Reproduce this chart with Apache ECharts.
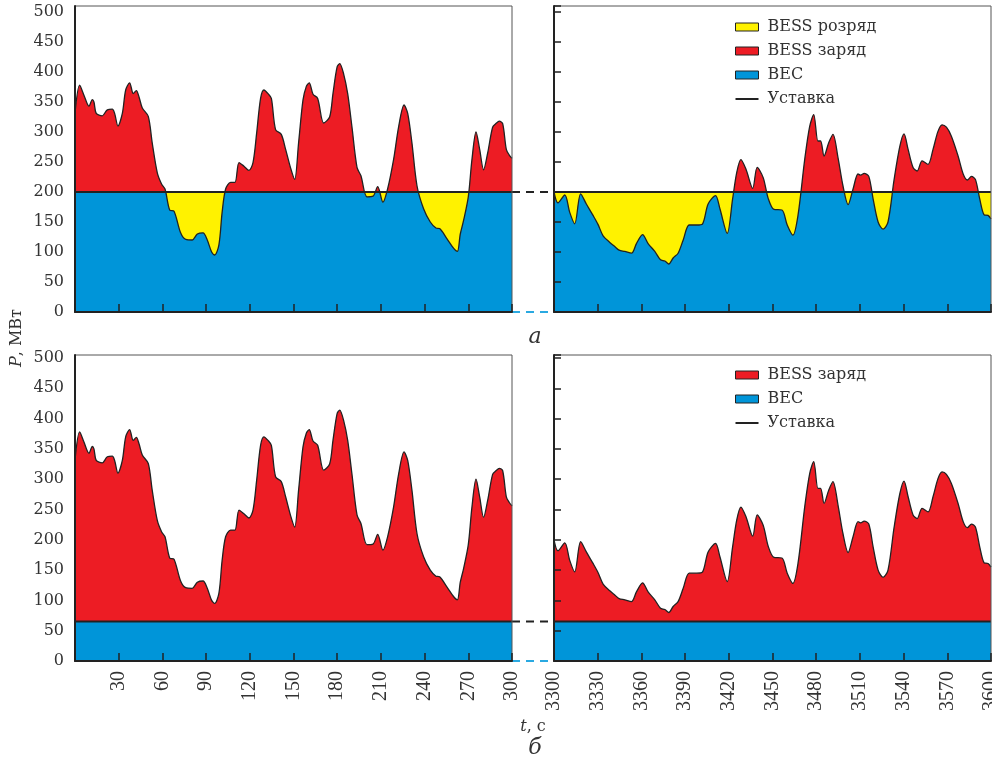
<!DOCTYPE html>
<html>
<head>
<meta charset="utf-8">
<script src="https://cdn.jsdelivr.net/npm/echarts@6/dist/echarts.min.js"></script>
<style>html,body{margin:0;padding:0;background:#fff}#c{width:992px;height:761px}</style>
</head>
<body>
<div id="c"></div>
<script>
// ---- data ----
const leftT = [0,3.2,6.2,9.6,11.9,13,14.6,18.7,22.2,25.6,27.2,29.5,32.5,34.8,37.5,40,42.1,44,46.2,50.3,53,56.5,59.5,61.8,65,68,72.5,76,80.5,84,87.9,90.8,93.8,95.9,98.8,101,103.4,106.8,109.8,112.6,116,119.4,122.2,124.7,127.4,129.7,132.5,134.8,137.7,141.6,144.6,148,150.8,153.5,156.5,158.8,160.8,163.4,166.6,170.7,174.8,177.1,179.9,181.7,184.4,187.2,190.1,193.6,196.3,200.4,204.6,207.8,211.4,214.6,218.7,222.2,225.9,228.4,231.3,234.8,239.3,243.9,247.8,250.3,255.4,260,262.5,264.5,266.8,270,272.5,275.3,277.8,280.5,283.3,286.7,289,291.3,293.6,296.1,298,300];
const leftP = [331,378,361,343,354,350,331,327,337,338,331,310,331,370,382,364,369,358,340,326,282,232,213,205,170,168,132,121,120,130,132,120,100,95,112,166,205,216,216,249,243,236,249,298,356,370,364,356,304,296,271,240,221,282,353,376,382,363,356,315,325,364,408,414,397,364,309,241,227,192,193,209,183,205,254,309,345,331,282,210,172,150,140,139,122,106,101,130,153,192,254,300,271,237,265,308,314,318,314,271,262,256];
const rightT = [3300,3302.7,3307.4,3310.8,3314.2,3318.3,3322.2,3326.8,3330.2,3333.7,3338.3,3341.7,3344.7,3348.6,3353.2,3356.6,3360.8,3364.6,3369.2,3373.1,3376.1,3378.8,3381.8,3385.2,3388.7,3392.8,3397.9,3402,3405.8,3410.9,3413.9,3418.9,3422.6,3425.4,3428.3,3431.8,3436.4,3439.5,3443.6,3447.1,3451,3456.5,3460.1,3464,3467.5,3472.1,3475.5,3478.3,3481.2,3483,3485.4,3488.6,3491.5,3495,3498.4,3501.9,3505.3,3508.7,3510.5,3512.9,3516.1,3519.1,3522.5,3525.9,3529.3,3533.5,3537.4,3540.3,3543.1,3546.5,3549.3,3552.7,3556.8,3560.2,3563.6,3566.4,3569.4,3572.8,3577.4,3580.9,3583.8,3586.6,3589.3,3592.3,3595.3,3598,3600];
const rightP = [200,182,195,166,147,197,180,161,146,127,116,109,103,101,98,114,129,114,101,87,85,80,90,98,120,145,145,147,180,194,172,131,188,232,254,238,206,241,224,189,171,170,145,128,161,254,309,329,285,285,260,282,296,257,210,179,205,230,228,231,226,188,150,138,150,221,276,297,271,241,235,252,246,271,301,312,308,293,260,230,220,226,221,188,162,161,155];
const setpointTop = 200;     // МВт, panel а
const setpointBottom = 65;   // МВт, panel б
const leftRange = [0, 300];
const rightRange = [3300, 3600];
const xInterval = 30;
const yInterval = 50;

// ---- styles ----
const BLUE = '#0095D9', RED = '#ED1C24', YEL = '#FFF200', DASHBLUE = '#2AA9E1', INK = '#222';
const SERIF = 'DejaVu Serif';
const SMOOTH = 0.3;
const pairs = (ts, ps) => ts.map((t, i) => [t, ps[i]]);
const leftPairs = pairs(leftT, leftP);
const rightPairs = pairs(rightT, rightP);
const flat = (range, v) => [[range[0], v], [range[1], v]];

const TOP = {top: 6, height: 306, max: 510};
const BOT = {top: 355, height: 306, max: 505};
const L = {left: 75, width: 437};
const R = {left: 554, width: 437};
const GAP = {left: 512, width: 42};

const grids = [], xAxes = [], yAxes = [], series = [];
function addGrid(g) { grids.push(Object.assign({containLabel: false, outerBoundsMode: 'none'}, g)); return grids.length - 1; }
function hiddenX(gi, range) { xAxes.push({type: 'value', gridIndex: gi, min: range[0], max: range[1], show: false}); }
function hiddenY(gi, min, max) { yAxes.push({type: 'value', gridIndex: gi, min: min, max: max, show: false}); }

function frameAxes(gi, range, row, isLeft, showXLabels) {
  xAxes.push({
    type: 'value', gridIndex: gi, min: range[0], max: range[1], interval: xInterval, z: 10,
    axisLine: {show: true, onZero: false, lineStyle: {color: INK, width: 2}},
    axisTick: {show: true, inside: true, length: 8, lineStyle: {color: INK, width: 1.5}},
    splitLine: {show: false},
    axisLabel: {show: showXLabels, rotate: 90, margin: 10, fontFamily: 'Liberation Serif', fontSize: 20, color: '#333',
      hideOverlap: false, showMinLabel: true, showMaxLabel: true,
      formatter: v => (v === 0 || v % xInterval !== 0) ? '' : String(v)}
  });
  yAxes.push({
    type: 'value', gridIndex: gi, min: 0, max: row.max, interval: yInterval, z: 10,
    axisLine: {show: true, lineStyle: {color: INK, width: 2}},
    axisTick: {show: !isLeft, inside: true, length: 7, lineStyle: {color: INK, width: 1.5}},
    splitLine: {show: false},
    axisLabel: {show: isLeft, margin: 11, fontFamily: SERIF, fontSize: 16, color: '#333',
      formatter: v => v % yInterval === 0 ? String(v) : ''}
  });
}

function topPanel(col, range, data) {
  const pxPerUnit = TOP.height / TOP.max;
  const gFull = addGrid({left: col.left, width: col.width, top: TOP.top, height: TOP.height, show: true, borderColor: '#555', borderWidth: 1, z: 10});
  frameAxes(gFull, range, TOP, col === L, false);
  const upH = (TOP.max - setpointTop) * pxPerUnit;
  const gUp = addGrid({left: col.left, width: col.width, top: TOP.top, height: upH});
  hiddenX(gUp, range); hiddenY(gUp, setpointTop, TOP.max);
  const gLo = addGrid({left: col.left, width: col.width, top: TOP.top + upH, height: TOP.height - upH});
  hiddenX(gLo, range); hiddenY(gLo, 0, setpointTop);
  const area = (name, gi, d, color) => ({
    name, type: 'line', xAxisIndex: gi, yAxisIndex: gi, data: d, smooth: SMOOTH, symbol: 'none',
    itemStyle: {color}, lineStyle: {width: 0}, areaStyle: {color, opacity: 1, origin: 'start'}, silent: true
  });
  series.push(area('BESS заряд', gUp, data, RED));
  series.push(area('BESS розряд', gLo, flat(range, setpointTop), YEL));
  series.push(area('ВЕС', gLo, data, BLUE));
  series.push({type: 'line', xAxisIndex: gFull, yAxisIndex: gFull, data, smooth: SMOOTH, symbol: 'none',
    lineStyle: {color: INK, width: 1.3}, itemStyle: {color: INK}, silent: true});
  series.push({name: 'Уставка', type: 'line', xAxisIndex: gFull, yAxisIndex: gFull, data: flat(range, setpointTop), symbol: 'none',
    lineStyle: {color: INK, width: 2}, itemStyle: {color: INK}, silent: true});
}

function bottomPanel(col, range, data) {
  const gi = addGrid({left: col.left, width: col.width, top: BOT.top, height: BOT.height, show: true, borderColor: '#555', borderWidth: 1, z: 10});
  frameAxes(gi, range, BOT, col === L, true);
  series.push({name: 'BESS заряд', type: 'line', xAxisIndex: gi, yAxisIndex: gi, data, smooth: SMOOTH, symbol: 'none',
    itemStyle: {color: RED}, lineStyle: {color: INK, width: 1.3}, areaStyle: {color: RED, opacity: 1, origin: 'start'}, silent: true});
  series.push({name: 'ВЕС', type: 'line', xAxisIndex: gi, yAxisIndex: gi, data: flat(range, setpointBottom), symbol: 'none',
    itemStyle: {color: BLUE}, lineStyle: {width: 0}, areaStyle: {color: BLUE, opacity: 1, origin: 'start'}, silent: true});
  series.push({name: 'Уставка', type: 'line', xAxisIndex: gi, yAxisIndex: gi, data: flat(range, setpointBottom), symbol: 'none',
    lineStyle: {color: INK, width: 2}, itemStyle: {color: INK}, silent: true});
}

function gapPanel(row, level) {
  const gi = addGrid({left: GAP.left, width: GAP.width, top: row.top, height: row.height});
  hiddenX(gi, [0, 1]); hiddenY(gi, 0, row.max);
  series.push({type: 'line', xAxisIndex: gi, yAxisIndex: gi, data: flat([0, 1], level), symbol: 'none', clip: false,
    lineStyle: {color: INK, width: 2, type: [8, 6]}, silent: true});
  series.push({type: 'line', xAxisIndex: gi, yAxisIndex: gi, data: flat([0, 1], 0), symbol: 'none', clip: false,
    lineStyle: {color: DASHBLUE, width: 2, type: [8, 6]}, silent: true});
}

topPanel(L, leftRange, leftPairs);
topPanel(R, rightRange, rightPairs);
bottomPanel(L, leftRange, leftPairs);
bottomPanel(R, rightRange, rightPairs);
gapPanel(TOP, setpointTop);
gapPanel(BOT, setpointBottom);

const LINE_ICON = 'path://M0,3 L23,3 L23,5 L0,5 Z M0,0 L0.01,0 L0,0.01 Z M23,8 L22.99,8 L23,7.99 Z';
const legendBase = {
  orient: 'vertical', left: 735, itemWidth: 23, itemHeight: 8, itemGap: 8, padding: 0, selectedMode: false,
  textStyle: {fontFamily: SERIF, fontSize: 16, color: '#333', padding: [0, 0, 0, 4]},
  itemStyle: {borderColor: INK, borderWidth: 1}
};
const setpointItem = {name: 'Уставка', icon: LINE_ICON, itemStyle: {color: INK, borderWidth: 0}};

const chart = echarts.init(document.getElementById('c'), null, {renderer: 'canvas'});
chart.setOption({
  animation: false,
  grid: grids, xAxis: xAxes, yAxis: yAxes, series,
  legend: [
    Object.assign({}, legendBase, {top: 19, data: [{name: 'BESS розряд', icon: 'rect'}, {name: 'BESS заряд', icon: 'rect'}, {name: 'ВЕС', icon: 'rect'}, setpointItem]}),
    Object.assign({}, legendBase, {top: 367, data: [{name: 'BESS заряд', icon: 'rect'}, {name: 'ВЕС', icon: 'rect'}, setpointItem]})
  ],
  graphic: [
    {type: 'text', x: 17, y: 338, rotation: Math.PI / 2, style: {text: '{i|P}, МВт', fontFamily: SERIF, fontSize: 16, fill: '#333', align: 'center', verticalAlign: 'middle',
      rich: {i: {fontStyle: 'italic', fontFamily: SERIF, fontSize: 16, fill: '#333'}}}},
    {type: 'text', x: 535, y: 337, style: {text: 'а', fontFamily: SERIF, fontStyle: 'italic', fontSize: 22, fill: '#333', align: 'center', verticalAlign: 'middle'}},
    {type: 'text', x: 533, y: 727, style: {text: '{i|t}, c', fontFamily: SERIF, fontSize: 16, fill: '#333', align: 'center', verticalAlign: 'middle',
      rich: {i: {fontStyle: 'italic', fontFamily: SERIF, fontSize: 16, fill: '#333'}}}},
    {type: 'text', x: 535, y: 748, style: {text: 'б', fontFamily: SERIF, fontStyle: 'italic', fontSize: 22, fill: '#333', align: 'center', verticalAlign: 'middle'}}
  ]
});
</script>
</body>
</html>
